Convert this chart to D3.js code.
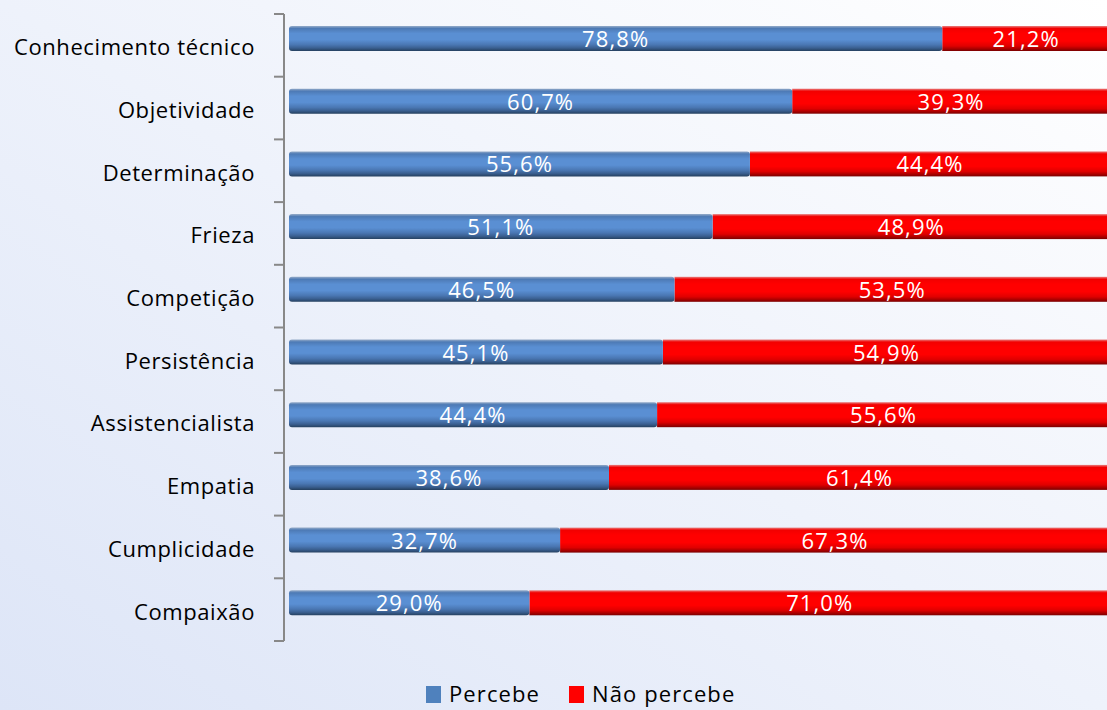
<!DOCTYPE html>
<html>
<head>
<meta charset="utf-8">
<script src="https://cdn.jsdelivr.net/npm/d3@7"></script>
<style>
  body { margin: 0; }
  svg { display: block; font-family: "Open Sans", sans-serif; }
</style>
</head>
<body>
<svg id="canvas" width="1107" height="710"></svg>
<script>
let categories = ['Conhecimento técnico', 'Objetividade', 'Determinação', 'Frieza', 'Competição',
    'Persistência', 'Assistencialista', 'Empatia', 'Cumplicidade', 'Compaixão']
let percebe = [78.8, 60.7, 55.6, 51.1, 46.5, 45.1, 44.4, 38.6, 32.7, 29.0]
let naoPercebe = [21.2, 39.3, 44.4, 48.9, 53.5, 54.9, 55.6, 61.4, 67.3, 71.0]
let seriesNames = ['Percebe', 'Não percebe']

let canvas = d3.select('#canvas')
let defs = canvas.append('defs')

// background
let bg = defs.append('linearGradient').attr('id', 'bg')
    .attr('x1', '100%').attr('y1', '0%').attr('x2', '0%').attr('y2', '100%')
bg.append('stop').attr('offset', '0%').attr('stop-color', '#ffffff')
bg.append('stop').attr('offset', '100%').attr('stop-color', '#dde5f7')
canvas.append('rect').attr('width', 1107).attr('height', 710).attr('fill', 'url(#bg)')

let makeBarGrad = (id, stops) => {
    let g = defs.append('linearGradient').attr('id', id)
        .attr('x1', 0).attr('y1', 0).attr('x2', 0).attr('y2', 1)
    stops.forEach(s => {
        g.append('stop').attr('offset', s[0]).attr('stop-color', s[1])
    })
}
makeBarGrad('blueBar', [[0, '#95abc8'], [0.1, '#4d7ab5'], [0.3, '#5a8fd3'], [0.55, '#5a8fd3'], [0.75, '#4a77b3'], [0.88, '#3a5f90'], [1, '#25405f']])
makeBarGrad('redBar', [[0, '#e88080'], [0.1, '#f20000'], [0.3, '#ff0000'], [0.6, '#ff0000'], [0.8, '#e00000'], [0.9, '#b00000'], [1, '#7a0000']])

let yScale = d3.scaleBand()
    .domain(categories)
    .range([14, 641])

let xScale = d3.scaleLinear()
    .domain([0, 100])
    .range([289, 1118])

let barHeight = 25
let barOffset = 12

let rows = categories.map((c, i) => ({ cat: c, p: percebe[i], n: naoPercebe[i] }))

// red segments
canvas.selectAll('.red')
    .data(rows)
    .enter()
    .append('rect')
    .attr('class', 'red')
    .attr('x', d => xScale(d.p))
    .attr('y', d => yScale(d.cat) + barOffset)
    .attr('width', d => xScale(d.p + d.n) - xScale(d.p))
    .attr('height', barHeight)
    .attr('fill', 'url(#redBar)')

// blue segments
canvas.selectAll('.blue')
    .data(rows)
    .enter()
    .append('rect')
    .attr('class', 'blue')
    .attr('x', xScale(0))
    .attr('y', d => yScale(d.cat) + barOffset)
    .attr('width', d => xScale(d.p) - xScale(0))
    .attr('height', barHeight)
    .attr('rx', 3)
    .attr('fill', 'url(#blueBar)')

let fmt = v => v.toFixed(1).replace('.', ',') + '%'

canvas.selectAll('.lblP')
    .data(rows)
    .enter()
    .append('text')
    .attr('x', d => (xScale(0) + xScale(d.p)) / 2)
    .attr('y', d => yScale(d.cat) + barOffset + 21)
    .attr('text-anchor', 'middle')
    .attr('fill', '#ffffff')
    .attr('font-size', 22)
    .attr('letter-spacing', 1.1)
    .text(d => fmt(d.p))

canvas.selectAll('.lblN')
    .data(rows)
    .enter()
    .append('text')
    .attr('x', d => (xScale(d.p) + xScale(d.p + d.n)) / 2 - 4)
    .attr('y', d => yScale(d.cat) + barOffset + 21)
    .attr('text-anchor', 'middle')
    .attr('fill', '#ffffff')
    .attr('font-size', 22)
    .attr('letter-spacing', 1.1)
    .text(d => fmt(d.n))

// y axis
let yAxis = d3.axisLeft(yScale).tickSize(0).tickPadding(0)
let axisG = canvas.append('g').attr('transform', 'translate(284,0)').call(yAxis)
axisG.select('.domain').remove()
axisG.selectAll('text')
    .attr('x', -29)
    .attr('dy', '0.45em')
    .attr('font-size', 22)
    .attr('letter-spacing', 0.6)
    .attr('font-family', '"Open Sans", sans-serif')
    .attr('fill', '#000000')

let bounds = d3.range(categories.length + 1).map(i => 14 + i * yScale.step())
canvas.append('line')
    .attr('x1', 284).attr('x2', 284)
    .attr('y1', 14).attr('y2', 641)
    .attr('stroke', '#888888').attr('stroke-width', 2)
canvas.selectAll('.tick2')
    .data(bounds)
    .enter()
    .append('line')
    .attr('x1', 274).attr('x2', 284)
    .attr('y1', d => d).attr('y2', d => d)
    .attr('stroke', '#888888').attr('stroke-width', 2)

// legend
let legendX = [426, 569]
let legendFill = ['#4f81bd', '#ff0000']
seriesNames.forEach((s, i) => {
    canvas.append('rect')
        .attr('x', legendX[i]).attr('y', 686)
        .attr('width', 15).attr('height', 17)
        .attr('fill', legendFill[i])
    canvas.append('text')
        .attr('x', legendX[i] + 23).attr('y', 702)
        .attr('font-size', 22)
        .attr('letter-spacing', 1.1)
        .attr('fill', '#000000')
        .text(s)
})
</script>
</body>
</html>
